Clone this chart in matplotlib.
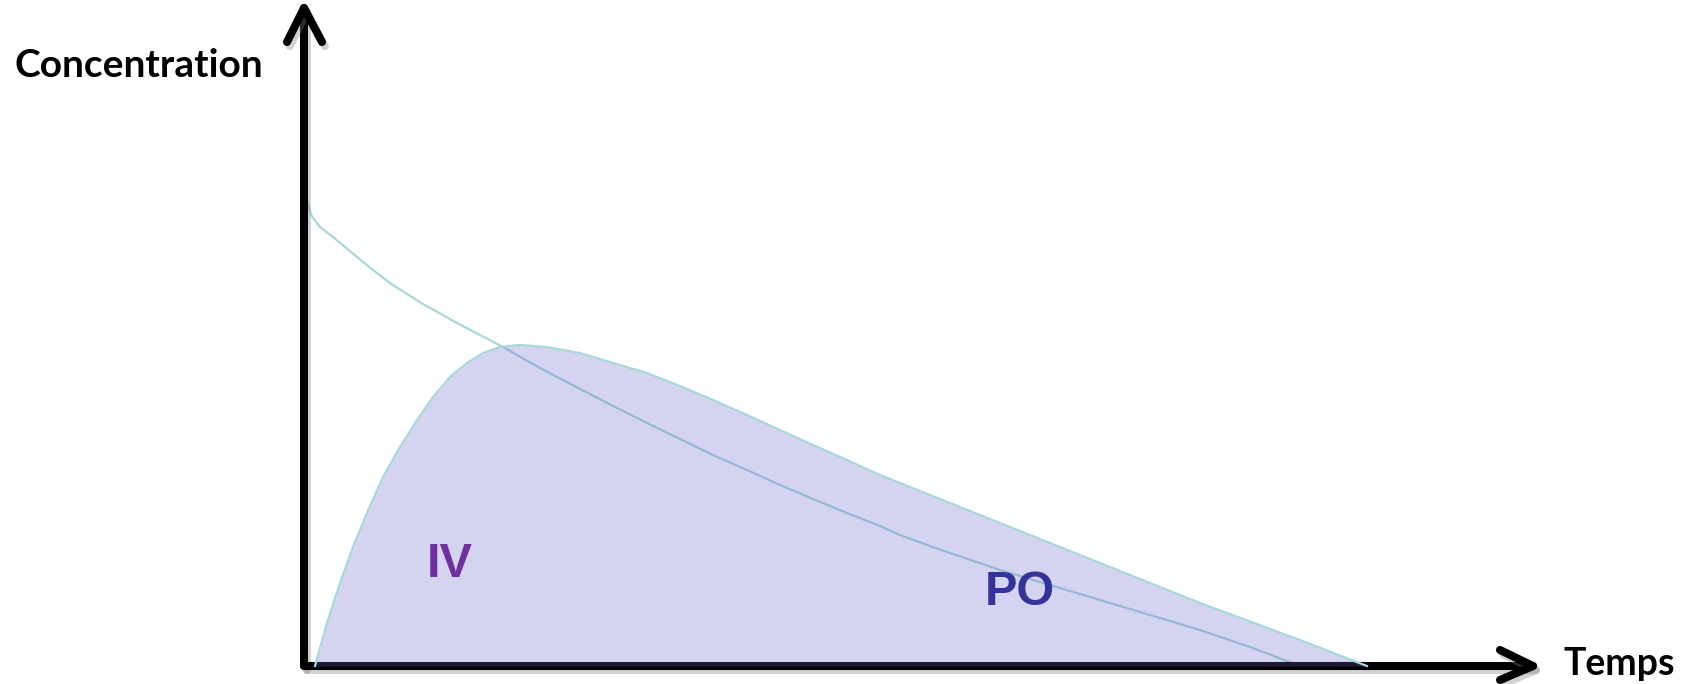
import numpy as np
import matplotlib.pyplot as plt
import matplotlib.patheffects as pe

# IV curve (time, concentration), arbitrary units
iv_time = [0.0, 0.02, 0.05, 0.12, 0.25, 0.37, 0.49, 0.65, 0.82, 0.99, 1.15,
           1.49, 1.72, 1.95, 2.32, 2.72, 3.05, 3.39, 3.72, 4.05, 4.39, 4.72,
           5.05, 5.39, 5.72, 5.92, 6.22, 6.42, 6.92, 7.42, 7.92, 8.42, 8.92,
           9.42, 9.92]
iv_conc = [4.63, 4.54, 4.48, 4.39, 4.29, 4.19, 4.09, 3.96, 3.83, 3.72, 3.62,
           3.43, 3.31, 3.19, 2.98, 2.77, 2.60, 2.43, 2.27, 2.11, 1.96, 1.81,
           1.67, 1.53, 1.40, 1.31, 1.20, 1.13, 0.96, 0.81, 0.66, 0.51, 0.36,
           0.19, 0.0]

# PO curve (filled)
po_time = [0.07, 0.19, 0.32, 0.45, 0.59, 0.75, 0.92, 1.09, 1.25, 1.42, 1.59,
           1.75, 1.92, 2.12, 2.39, 2.72, 3.05, 3.39, 3.72, 4.05, 4.39, 4.72,
           5.05, 5.39, 5.72, 6.22, 6.92, 7.92, 8.92, 9.92, 10.59]
po_conc = [0.0, 0.43, 0.83, 1.19, 1.53, 1.89, 2.19, 2.46, 2.69, 2.89, 3.03,
           3.13, 3.19, 3.21, 3.19, 3.13, 3.03, 2.93, 2.80, 2.66, 2.51, 2.36,
           2.21, 2.06, 1.91, 1.71, 1.43, 1.03, 0.63, 0.26, 0.0]

fig = plt.figure(figsize=(16.83, 6.84), dpi=100)
ax = fig.add_axes([0, 0, 1, 1])
ax.set_xlim(-3.08, 13.75)
ax.set_ylim(-0.18, 6.66)
ax.axis('off')

line_col = '#a8d8da'
ax.plot(iv_time, iv_conc, color=line_col, lw=1.6, zorder=2)

# axes with open arrow heads
shadow = [pe.SimpleLineShadow(offset=(2, -3), shadow_color='gray', alpha=0.35), pe.Normal()]
ax0 = -0.04
kw = dict(color='black', lw=5.8, solid_capstyle='round', solid_joinstyle='round',
          zorder=3, path_effects=shadow)
ax.plot([ax0, ax0], [0, 6.58], **kw)
ax.plot([ax0 - 0.17, ax0, ax0 + 0.18], [6.24, 6.58, 6.24], **kw)
ax.plot([ax0, 12.25], [0, 0], **kw)
ax.plot([11.92, 12.25, 11.92], [0.16, 0.0, -0.14], **kw)

ax.fill_between(po_time, po_conc, 0, color='#6666cc', alpha=0.28, lw=0, zorder=4)
ax.plot(po_time, po_conc, color=line_col, lw=1.6, zorder=5)

ax.text(-2.93, 5.89, 'Concentration', fontsize=28, fontweight='bold',
        family='Lato', ha='left', va='baseline')
ax.text(12.55, -0.09, 'Temps', fontsize=27, fontweight='bold',
        family='Lato', ha='left', va='baseline')
ax.text(1.19, 0.89, 'IV', fontsize=35, fontweight='bold', color='#7030a0',
        family='Liberation Sans', ha='left', va='baseline', zorder=6)
ax.text(6.77, 0.61, 'PO', fontsize=35, fontweight='bold', color='#333399',
        family='Liberation Sans', ha='left', va='baseline', zorder=6)

fig.savefig('out.png', dpi=100)
